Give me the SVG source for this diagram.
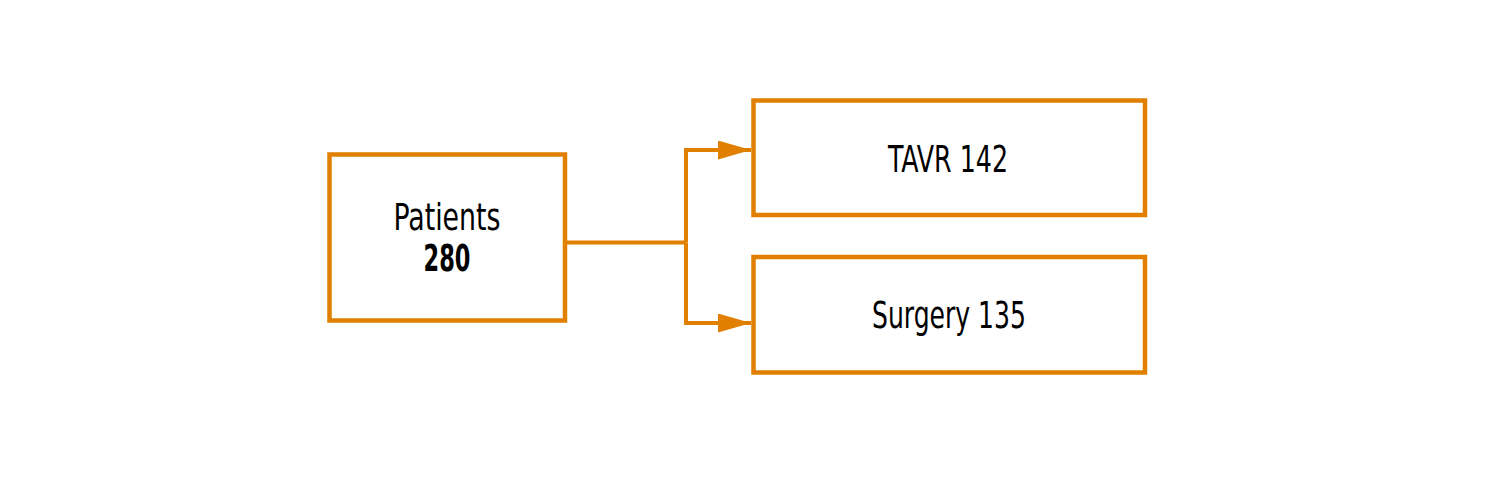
<svg xmlns="http://www.w3.org/2000/svg" width="1512" height="482" viewBox="0 0 1512 482">
<style>
.box{fill:#fff;stroke:#E07F00;stroke-width:4.5}
.conn{fill:none;stroke:#E07F00;stroke-width:4}
.t{font-family:"Liberation Sans Narrow","DejaVu Sans Condensed","Liberation Sans",sans-serif;font-size:37.5px;fill:#000;text-anchor:middle}
.b{font-weight:bold}
</style>
<defs>
<marker id="arr" markerWidth="33" markerHeight="19" refX="33" refY="9.5" orient="auto" markerUnits="userSpaceOnUse">
<path d="M0,0 L33,9.5 L0,19 Z" fill="#E07F00"/>
</marker>
</defs>
<rect width="1512" height="482" fill="#fff"/>
<g id="connectors">
<path class="conn" d="M565,242.5 H686"/>
<path class="conn" d="M686,242.5 V150 H751" marker-end="url(#arr)"/>
<path class="conn" d="M686,242.5 V323 H751" marker-end="url(#arr)"/>
</g>
<g id="patients">
<rect class="box" x="329.5" y="154.5" width="235.5" height="166"/>
<text class="t" x="447" y="230" textLength="107" lengthAdjust="spacingAndGlyphs">Patients</text>
<text class="t b" x="447" y="271" textLength="47" lengthAdjust="spacingAndGlyphs">280</text>
</g>
<g id="tavr">
<rect class="box" x="753.5" y="100.5" width="391.5" height="114.5"/>
<text class="t" x="948" y="171.5" textLength="120" lengthAdjust="spacingAndGlyphs">TAVR 142</text>
</g>
<g id="surgery">
<rect class="box" x="753.5" y="257" width="391.5" height="115.5"/>
<text class="t" x="949" y="327.5" textLength="154" lengthAdjust="spacingAndGlyphs">Surgery 135</text>
</g>
</svg>
